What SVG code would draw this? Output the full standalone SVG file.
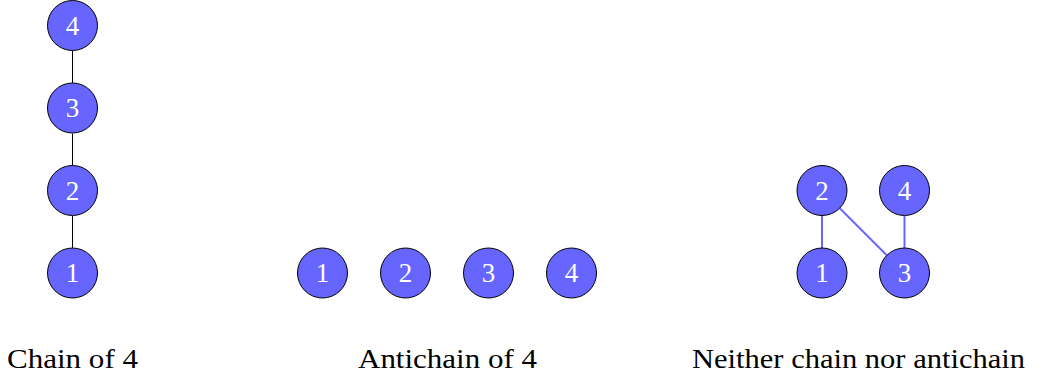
<svg xmlns="http://www.w3.org/2000/svg" width="1041" height="379" viewBox="0 0 1041 379">
<style>
.node circle{fill:#6666ff;stroke:#000;stroke-width:1}
.node text{fill:#fff;font-size:27px;text-anchor:middle}
.lbl{fill:#000;font-size:28px;text-anchor:middle}
.e1{stroke:#000;stroke-width:1}
.e2{stroke:#6666ff;stroke-width:2}
</style>
<rect width="1041" height="379" fill="#fff"/>
<g id="connectors">
<line class="e1" x1="72.5" y1="51" x2="72.5" y2="83"/>
<line class="e1" x1="72.5" y1="133.5" x2="72.5" y2="165.5"/>
<line class="e1" x1="72.5" y1="216" x2="72.5" y2="248"/>
<line class="e2" x1="822" y1="216" x2="822" y2="248"/>
<line class="e2" x1="904.5" y1="216" x2="904.5" y2="248"/>
<line class="e2" x1="840" y1="208.5" x2="886.5" y2="255"/>
</g>
<g font-family="Liberation Serif, DejaVu Serif, serif">
<g id="chain-4" class="node"><circle cx="72.5" cy="25.5" r="25"/><text x="72.5" y="34.5">4</text></g>
<g id="chain-3" class="node"><circle cx="72.5" cy="108" r="25"/><text x="72.5" y="117">3</text></g>
<g id="chain-2" class="node"><circle cx="72.5" cy="190.5" r="25"/><text x="72.5" y="199.5">2</text></g>
<g id="chain-1" class="node"><circle cx="72.5" cy="273" r="25"/><text x="72.5" y="282">1</text></g>
<g id="anti-1" class="node"><circle cx="322.5" cy="273" r="25"/><text x="322.5" y="282">1</text></g>
<g id="anti-2" class="node"><circle cx="405.5" cy="273" r="25"/><text x="405.5" y="282">2</text></g>
<g id="anti-3" class="node"><circle cx="488.5" cy="273" r="25"/><text x="488.5" y="282">3</text></g>
<g id="anti-4" class="node"><circle cx="571.5" cy="273" r="25"/><text x="571.5" y="282">4</text></g>
<g id="n-2" class="node"><circle cx="822" cy="190.5" r="25"/><text x="822" y="199.5">2</text></g>
<g id="n-4" class="node"><circle cx="904.5" cy="190.5" r="25"/><text x="904.5" y="199.5">4</text></g>
<g id="n-1" class="node"><circle cx="822" cy="273" r="25"/><text x="822" y="282">1</text></g>
<g id="n-3" class="node"><circle cx="904.5" cy="273" r="25"/><text x="904.5" y="282">3</text></g>
<g id="labels">
<text class="lbl" x="72.5" y="368" textLength="131" lengthAdjust="spacingAndGlyphs">Chain of 4</text>
<text class="lbl" x="447.5" y="368" textLength="179" lengthAdjust="spacingAndGlyphs">Antichain of 4</text>
<text class="lbl" x="858.5" y="368" textLength="333" lengthAdjust="spacingAndGlyphs">Neither chain nor antichain</text>
</g>
</g>
</svg>
